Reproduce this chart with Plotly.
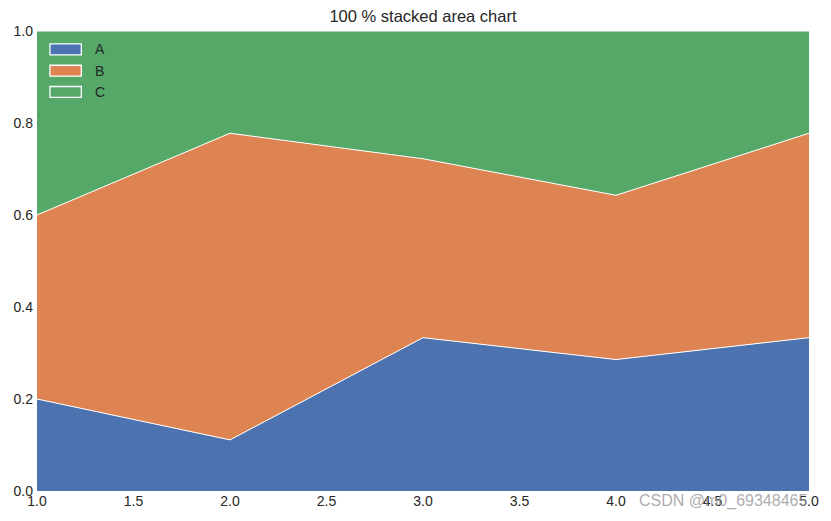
import plotly.graph_objects as go

x = [1, 2, 3, 4, 5]
group_A = [1, 4, 6, 8, 9]
group_B = [2, 24, 7, 10, 12]
group_C = [2, 8, 5, 10, 6]
names = ["A", "B", "C"]
colors = ["#4C72B0", "#DD8452", "#55A868"]

W, H = 831, 521
ml, mr, mt, mb = 37, 19, 31, 29
pw, ph = W - ml - mr, H - mt - mb

fig = go.Figure()
for name, vals, col in zip(names, [group_A, group_B, group_C], colors):
    fig.add_trace(go.Scatter(
        x=x, y=vals, name=name, mode="lines", stackgroup="one",
        groupnorm="fraction", fillcolor=col,
        line=dict(color="white", width=1), showlegend=False,
    ))

# manual legend (boxes with white border + labels)
shapes, annotations = [], []
for i, (name, col) in enumerate(zip(names, colors)):
    cy = 49.5 + i * 21.3
    x0 = (50 - ml) / pw
    x1 = (81.5 - ml) / pw
    y0 = 1 - (cy - 5.5 - mt) / ph
    y1 = 1 - (cy + 5.5 - mt) / ph
    shapes.append(dict(type="rect", xref="paper", yref="paper", x0=x0, x1=x1, y0=y1, y1=y0,
                       fillcolor=col, line=dict(color="white", width=1.3)))
    annotations.append(dict(text=name, xref="paper", yref="paper", x=(93 - ml) / pw,
                            y=1 - (cy - mt) / ph, xanchor="left", yanchor="middle",
                            showarrow=False, font=dict(size=14, color="#262626")))

annotations.append(dict(text="CSDN @m0_69348465", xref="paper", yref="paper",
                        x=1.0, y=0, xanchor="right", yanchor="top", yshift=1,
                        showarrow=False, font=dict(size=16, color="rgba(150,150,150,0.8)")))

fig.update_layout(
    width=W, height=H,
    margin=dict(l=ml, r=mr, t=mt, b=mb),
    paper_bgcolor="white", plot_bgcolor="white",
    font=dict(family="Liberation Sans, Arial, sans-serif", size=14, color="#262626"),
    title=dict(text="100 % stacked area chart", x=0.5, xref="paper", xanchor="center",
               y=1 - 16/521, yanchor="middle", font=dict(size=16.5, color="#262626")),
    showlegend=False,
    xaxis=dict(range=[1, 5], tickmode="array", tickvals=[1, 1.5, 2, 2.5, 3, 3.5, 4, 4.5, 5],
               ticktext=["1.0", "1.5", "2.0", "2.5", "3.0", "3.5", "4.0", "4.5", "5.0"],
               showgrid=False, zeroline=False, showline=False, ticks="", ticklen=0),
    yaxis=dict(range=[0, 1], tickmode="array", tickvals=[0, 0.2, 0.4, 0.6, 0.8, 1.0],
               ticktext=["0.0", "0.2", "0.4", "0.6", "0.8", "1.0"],
               showgrid=False, zeroline=False, showline=False, ticks="", ticklen=0,
               ticklabelstandoff=3),
    shapes=shapes,
    annotations=annotations,
)

fig.write_html("out.html")
